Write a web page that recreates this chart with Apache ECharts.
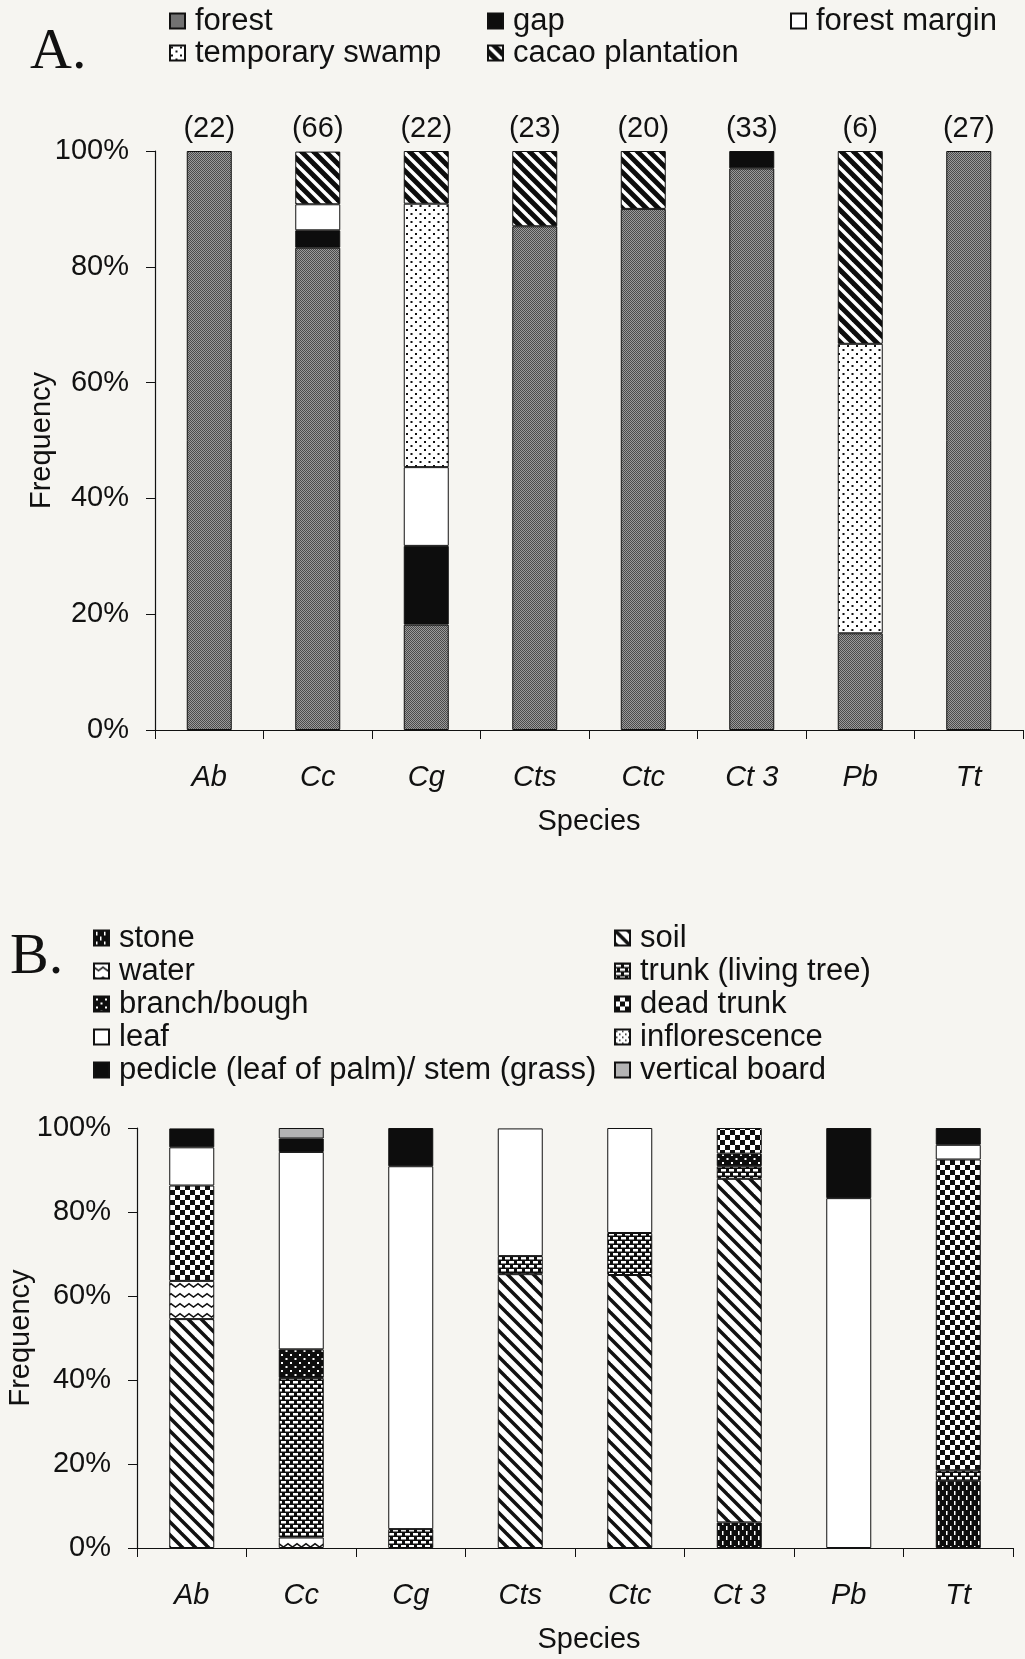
<!DOCTYPE html>
<html>
<head>
<meta charset="utf-8">
<script src="https://cdn.jsdelivr.net/npm/echarts@6/dist/echarts.min.js"></script>
<style>
	html, body { margin: 0; padding: 0; background: #f6f5f1; }
	#chart { width: 1025px; height: 1659px; }
</style>
</head>
<body>
<div id="chart"></div>
<script>
// species on the x axis (both panels)
var species = ['Ab', 'Cc', 'Cg', 'Cts', 'Ctc', 'Ct 3', 'Pb', 'Tt'];
// sample sizes shown above panel A
var sampleSizes = [22, 66, 22, 23, 20, 33, 6, 27];
var yTicks = [0, 20, 40, 60, 80, 100];

// panel A: habitat (% of records)
var forest          = [100, 83.3, 18.2, 87.0, 90, 97.0, 16.7, 100];
var gap             = [0, 3.0, 13.6, 0, 0, 3.0, 0, 0];
var forestMargin    = [0, 4.5, 13.6, 0, 0, 0, 0, 0];
var temporarySwamp  = [0, 0, 45.5, 0, 0, 0, 50.0, 0];
var cacaoPlantation = [0, 9.1, 9.1, 13.0, 10, 0, 33.3, 0];

// panel B: microhabitat (% of records)
var stone         = [0, 0, 0, 0, 0, 6.1, 0, 16.0];
var soil          = [54.5, 0, 0, 65.2, 65, 81.8, 0, 0];
var water         = [9.1, 2.5, 0, 0, 0, 0, 0, 0];
var trunk         = [0, 38.0, 4.5, 4.3, 10, 3.0, 0, 2.5];
var branch        = [0, 6.8, 0, 0, 0, 3.0, 0, 0];
var deadTrunk     = [22.7, 0, 0, 0, 0, 6.1, 0, 74.0];
var leaf          = [9.1, 47.0, 86.4, 30.4, 25, 0, 83.3, 3.5];
var inflorescence = [0, 0, 0, 0, 0, 0, 0, 0];
var pedicle       = [4.5, 3.2, 9.1, 0, 0, 0, 16.7, 4.0];
var verticalBoard = [0, 2.5, 0, 0, 0, 0, 0, 0];

// fill patterns (black & white print look)
function pattern(w, h, bg, draw) {
	var c = document.createElement('canvas');
	c.width = w;
	c.height = h;
	var ctx = c.getContext('2d');
	ctx.fillStyle = bg;
	ctx.fillRect(0, 0, w, h);
	if (draw) draw(ctx, w, h);
	return { image: c, repeat: 'repeat' };
}
function diagonal(p, lw, bg, fg) {
	return pattern(p, p, bg, function(ctx) {
		ctx.strokeStyle = fg;
		ctx.lineWidth = lw;
		for (var k = -p; k <= p; k += p) {
			ctx.beginPath();
			ctx.moveTo(k - 2, -2);
			ctx.lineTo(k + p + 2, p + 2);
			ctx.stroke();
		}
	});
}
var fillForest = pattern(2, 2, '#9a9a9a', function(ctx) {
	ctx.fillStyle = '#4a4a4a';
	ctx.fillRect(0, 0, 1, 1);
	ctx.fillRect(1, 1, 1, 1);
});
var fillSwamp = pattern(9, 8, '#ffffff', function(ctx) {
	ctx.fillStyle = '#111';
	ctx.fillRect(1, 1, 2, 2);
	ctx.fillRect(5.5, 5, 2, 2);
});
var fillCacao = diagonal(12, 3.5, '#0d0d0d', '#ffffff');
var fillSoil = diagonal(13, 3.5, '#ffffff', '#111');
var fillStone = pattern(8, 10, '#0d0d0d', function(ctx) {
	ctx.fillStyle = '#fff';
	ctx.fillRect(2, 1, 1.5, 4);
	ctx.fillRect(6, 6, 1.5, 4);
});
var fillWater = pattern(9, 10, '#ffffff', function(ctx) {
	ctx.strokeStyle = '#111';
	ctx.lineWidth = 1.5;
	ctx.beginPath();
	ctx.moveTo(-1, 3);
	ctx.lineTo(4.5, 7);
	ctx.lineTo(10, 3);
	ctx.stroke();
});
var fillTrunk = pattern(8, 8, '#0d0d0d', function(ctx) {
	ctx.fillStyle = '#fff';
	ctx.fillRect(1, 1, 5, 2.5);
	ctx.fillRect(5, 5, 5, 2.5);
	ctx.fillRect(-3, 5, 5, 2.5);
});
var fillBranch = pattern(9, 8, '#0d0d0d', function(ctx) {
	ctx.fillStyle = '#fff';
	ctx.fillRect(2, 2, 2, 2);
	ctx.fillRect(6.5, 6, 2, 2);
});
var fillDeadTrunk = pattern(10, 10, '#ffffff', function(ctx) {
	ctx.fillStyle = '#0d0d0d';
	ctx.fillRect(0, 0, 5, 5);
	ctx.fillRect(5, 5, 5, 5);
});
var fillInflorescence = pattern(6, 6, '#ffffff', function(ctx) {
	ctx.fillStyle = '#111';
	ctx.fillRect(1, 1, 1.5, 1.5);
	ctx.fillRect(4, 4, 1.5, 1.5);
});

var habitatNames = ['forest', 'gap', 'forest margin', 'temporary swamp', 'cacao plantation'];
var habitatValues = [forest, gap, forestMargin, temporarySwamp, cacaoPlantation];
var habitatFills = [fillForest, '#0d0d0d', '#ffffff', fillSwamp, fillCacao];

var microNames = ['stone', 'soil', 'water', 'trunk (living tree)', 'branch/bough', 'dead trunk',
	'leaf', 'inflorescence', 'pedicle (leaf of palm)/ stem (grass)', 'vertical board'];
var microValues = [stone, soil, water, trunk, branch, deadTrunk, leaf, inflorescence, pedicle, verticalBoard];
var microFills = [fillStone, fillSoil, fillWater, fillTrunk, fillBranch, fillDeadTrunk,
	'#ffffff', fillInflorescence, '#0d0d0d', '#b4b4b4'];

var font = 'Liberation Sans';
var fs = 29;

var series = [];
function addStack(names, values, fills, stack, axis) {
	for (var i = 0; i < names.length; i++) {
		series.push({
			name: names[i],
			type: 'bar',
			stack: stack,
			xAxisIndex: axis,
			yAxisIndex: axis,
			barWidth: 45,
			itemStyle: { color: fills[i], borderColor: '#111', borderWidth: 1 },
			data: values[i].map(function(v) { return v === 0 ? '-' : v; })
		});
	}
}
addStack(habitatNames, habitatValues, habitatFills, 'A', 0);
addStack(microNames, microValues, microFills, 'B', 1);

function valueAxis(grid, gap) {
	return {
		type: 'value',
		gridIndex: grid,
		min: yTicks[0],
		max: yTicks[yTicks.length - 1],
		interval: 20,
		name: 'Frequency',
		nameLocation: 'middle',
		nameGap: gap,
		nameMoveOverlap: false,
		nameTextStyle: { fontFamily: font, fontSize: fs, color: '#111' },
		axisLine: { show: true, lineStyle: { color: '#111', width: 1.2 } },
		axisTick: { show: true, length: 9, lineStyle: { color: '#111' } },
		axisLabel: { formatter: '{value}%', margin: 26, fontFamily: font, fontSize: fs, color: '#111' },
		splitLine: { show: false }
	};
}
function categoryAxis(grid, namePad) {
	return {
		type: 'category',
		gridIndex: grid,
		data: species,
		name: 'Species',
		nameLocation: 'middle',
		nameGap: 77,
		nameTextStyle: { fontFamily: font, fontSize: fs, color: '#111', padding: [0, 0, 0, namePad] },
		axisLine: { lineStyle: { color: '#111', width: 1.2 } },
		axisTick: { show: true, length: 9, lineStyle: { color: '#111' } },
		axisLabel: { margin: 33, fontFamily: font, fontSize: fs, fontStyle: 'italic', color: '#111' }
	};
}

function legendBlock(items, left, top, gapY) {
	return {
		data: items,
		left: left,
		top: top,
		orient: 'vertical',
		padding: 0,
		itemGap: gapY,
		itemWidth: 15,
		itemHeight: 15,
		icon: 'rect',
		selectedMode: false,
		textStyle: { fontFamily: font, fontSize: 31, lineHeight: 32, color: '#111', padding: [0, 0, 0, 5] }
	};
}

var chart = echarts.init(document.getElementById('chart'));
var option = {
	animation: false,
	backgroundColor: '#f6f5f1',
	grid: [
		{ left: 155, top: 151, width: 868, height: 579, outerBoundsMode: 'none' },
		{ left: 137, top: 1128, width: 876, height: 420, outerBoundsMode: 'none' }
	],
	xAxis: [
		categoryAxis(0, 0),
		categoryAxis(1, 28),
		{
			type: 'category',
			gridIndex: 0,
			position: 'top',
			data: sampleSizes,
			axisLine: { show: false },
			axisTick: { show: false },
			axisLabel: { formatter: '({value})', margin: 8, fontFamily: font, fontSize: fs, color: '#111' }
		}
	],
	yAxis: [valueAxis(0, 99), valueAxis(1, 102)],
	legend: [
		legendBlock(['forest', 'temporary swamp'], 169, 5, 0),
		legendBlock(['gap', 'cacao plantation'], 487, 5, 0),
		legendBlock(['forest margin'], 790, 5, 0),
		legendBlock(['stone', 'water', 'branch/bough', 'leaf', 'pedicle (leaf of palm)/ stem (grass)'], 93, 922, 1),
		legendBlock(['soil', 'trunk (living tree)', 'dead trunk', 'inflorescence', 'vertical board'], 614, 922, 1)
	],
	graphic: [
		{ type: 'text', left: 30, top: 24, style: { text: 'A.', font: '58px "Liberation Serif"', fill: '#111' } },
		{ type: 'text', left: 10, top: 929, style: { text: 'B.', font: '58px "Liberation Serif"', fill: '#111' } }
	],
	series: series
};
chart.setOption(option);
</script>
</body>
</html>
